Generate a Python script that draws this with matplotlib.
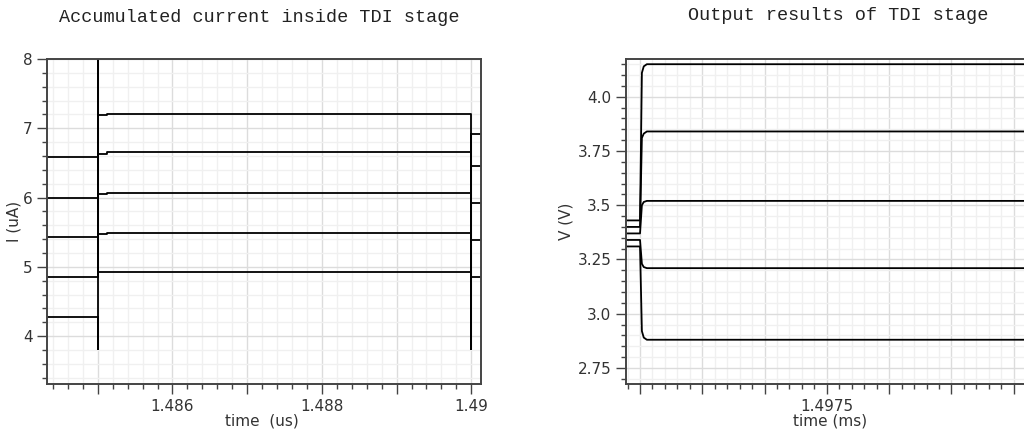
import numpy as np
import matplotlib
matplotlib.use("Agg")
import matplotlib.pyplot as plt
from matplotlib.ticker import MultipleLocator, FuncFormatter

# ---- left panel data: current traces (uA) vs time (us)
t_start, t_switch, t_end, t_after = 1.4843, 1.485, 1.49, 1.4902
i_before = [4.27, 4.85, 5.43, 6.00, 6.59]
i_dip = [3.81, 4.85, 5.43, 6.00, 6.59]      # lowest trace dips before the jump
i_settle = [4.92, 5.47, 6.05, 6.63, 7.19]   # short settling level after the jump
i_after = [4.92, 5.49, 6.07, 6.66, 7.21]
i_end = [4.86, 5.39, 5.92, 6.45, 6.92]
i_peak, i_low = 8.4, 3.81
t_settle = [1.48502, 1.48512]

# ---- right panel data: output voltages (V) vs time (ms)
v_start, v_end = 1.4971, 1.4980
t_rise = [1.4972, 1.497203, 1.497206, 1.497211]
v_rise = [
    [3.31, 2.92, 2.89, 2.88],
    [3.34, 3.23, 3.215, 3.21],
    [3.37, 3.50, 3.515, 3.52],
    [3.40, 3.81, 3.83, 3.84],
    [3.43, 4.11, 4.14, 4.15],
]

fig = plt.figure(figsize=(10.24, 4.33), dpi=100)
title_font = dict(family="Liberation Mono", fontsize=13.3, color="#222222")
fig.text(259 / 1024, 1 - 17 / 433, "Accumulated current inside TDI stage",
         ha="center", va="center", **title_font)
fig.text(838 / 1024, 1 - 15 / 433, "Output results of TDI stage",
         ha="center", va="center", **title_font)

ax1 = fig.add_axes([47 / 1024, 1 - 384 / 433, 434 / 1024, 325 / 433])
ax2 = fig.add_axes([626 / 1024, 1 - 384 / 433, 450 / 1024, 325 / 433])


def style(ax):
    for s in ax.spines.values():
        s.set_color("#444444")
        s.set_linewidth(1.4)
    ax.grid(which="major", color="#dcdcdc", linewidth=1.0)
    ax.grid(which="minor", color="#f0f0f0", linewidth=1.0)
    ax.set_axisbelow(True)
    ax.tick_params(which="major", length=7, width=1.0, color="#444444",
                   labelsize=11, labelcolor="#333333", direction="out")
    ax.tick_params(which="minor", length=3.5, width=1.0, color="#444444",
                   direction="out")


lc = dict(color="black", linewidth=1.3)
for k in range(len(i_before)):
    t = [t_start, t_switch, t_switch, t_switch, t_switch, t_settle[0],
         t_settle[1], t_settle[1], t_end, t_end, t_end, t_after]
    v = [i_before[k], i_before[k], i_dip[k], i_peak, i_settle[k],
         i_settle[k], i_settle[k], i_after[k], i_after[k], i_low,
         i_end[k], i_end[k]]
    ax1.plot(t, v, **lc)

style(ax1)
ax1.set_xlim(1.48432, 1.49013)
ax1.set_ylim(3.31, 8.0)
ax1.xaxis.set_major_locator(MultipleLocator(0.001))
ax1.xaxis.set_minor_locator(MultipleLocator(0.0002))
ax1.yaxis.set_major_locator(MultipleLocator(1))
ax1.yaxis.set_minor_locator(MultipleLocator(0.2))


def left_x(x, pos):
    labels = {1486: "1.486", 1488: "1.488", 1490: "1.49"}
    return labels.get(int(round(x * 1000)), "")


ax1.xaxis.set_major_formatter(FuncFormatter(left_x))
ax1.yaxis.set_major_formatter(FuncFormatter(lambda y, p: "%d" % round(y)))
ax1.set_ylabel("I (uA)", fontsize=11, color="#333333", labelpad=1)
fig.text(262 / 1024, 1 - 421 / 433, "time  (us)", ha="center", va="center",
         fontsize=11, color="#333333")

for vals in v_rise:
    t = [v_start] + t_rise + [v_end]
    v = [vals[0]] + vals + [vals[-1]]
    ax2.plot(t, v, **lc)

style(ax2)
ax2.set_xlim(1.4971775, 1.4979)
ax2.set_ylim(2.676, 4.174)
ax2.xaxis.set_major_locator(MultipleLocator(0.0001))
ax2.xaxis.set_minor_locator(MultipleLocator(0.00002))
ax2.yaxis.set_major_locator(MultipleLocator(0.25))
ax2.yaxis.set_minor_locator(MultipleLocator(0.05))


def right_x(x, pos):
    return "1.4975" if abs(x - 1.4975) < 1e-8 else ""


def right_y(y, pos):
    labels = {275: "2.75", 300: "3.0", 325: "3.25", 350: "3.5",
              375: "3.75", 400: "4.0"}
    return labels.get(int(round(y * 100)), "")


ax2.xaxis.set_major_formatter(FuncFormatter(right_x))
ax2.yaxis.set_major_formatter(FuncFormatter(right_y))
ax2.set_ylabel("V (V)", fontsize=11, color="#333333", labelpad=3)
fig.text(830 / 1024, 1 - 421 / 433, "time (ms)", ha="center", va="center",
         fontsize=11, color="#333333")

fig.savefig("out.png", dpi=100)
